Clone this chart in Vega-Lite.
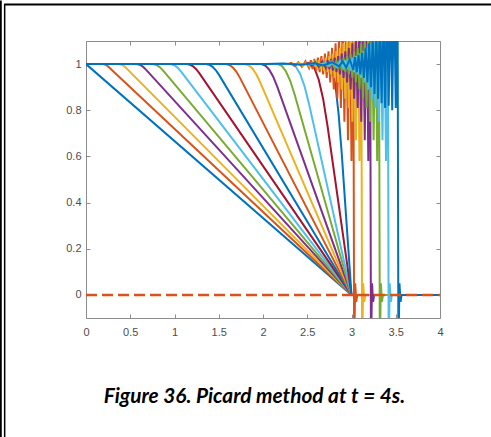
{
 "$schema": "https://vega.github.io/schema/vega-lite/v6.json",
 "width": 354, "height": 277,
 "autosize": "none",
 "padding": {"left": 86, "top": 41, "right": 51, "bottom": 119},
 "background": "white",
 "config": {"view": {"stroke": null}, "axis": {"grid": false, "labelFont": "Liberation Sans", "labelFontSize": 11, "labelColor": "#4d4d4d"}},
 "datasets": {
  "smooth": [
   {"i":1,"x":0,"y":1},{"i":1,"x":3,"y":0},
   {"i":2,"x":0,"y":1},{"i":2,"x":0.19,"y":1},{"i":2,"x":0.205,"y":0.99933},{"i":2,"x":0.22,"y":0.9973},{"i":2,"x":0.235,"y":0.99393},{"i":2,"x":0.25,"y":0.98921},{"i":2,"x":3,"y":0},
   {"i":3,"x":0,"y":1},{"i":3,"x":0.37,"y":1},{"i":3,"x":0.39,"y":0.99903},{"i":3,"x":0.41,"y":0.99614},{"i":3,"x":0.43,"y":0.99131},{"i":3,"x":0.45,"y":0.98456},{"i":3,"x":3,"y":0},
   {"i":4,"x":0,"y":1},{"i":4,"x":0.57,"y":1},{"i":4,"x":0.595,"y":0.99869},{"i":4,"x":0.62,"y":0.99475},{"i":4,"x":0.645,"y":0.98818},{"i":4,"x":0.67,"y":0.97899},{"i":4,"x":3,"y":0},
   {"i":5,"x":0,"y":1},{"i":5,"x":0.75,"y":1},{"i":5,"x":0.78,"y":0.99829},{"i":5,"x":0.81,"y":0.99315},{"i":5,"x":0.84,"y":0.98459},{"i":5,"x":0.87,"y":0.9726},{"i":5,"x":3,"y":0},
   {"i":6,"x":0,"y":1},{"i":6,"x":0.945,"y":1},{"i":6,"x":0.9775,"y":0.99796},{"i":6,"x":1.01,"y":0.99183},{"i":6,"x":1.0425,"y":0.98163},{"i":6,"x":1.075,"y":0.96734},{"i":6,"x":3,"y":0},
   {"i":7,"x":0,"y":1},{"i":7,"x":1.14,"y":1},{"i":7,"x":1.175,"y":0.99756},{"i":7,"x":1.21,"y":0.99022},{"i":7,"x":1.245,"y":0.978},{"i":7,"x":1.28,"y":0.96089},{"i":7,"x":3,"y":0},
   {"i":8,"x":0,"y":1},{"i":8,"x":1.355,"y":1},{"i":8,"x":1.3925,"y":0.99701},{"i":8,"x":1.43,"y":0.98806},{"i":8,"x":1.4675,"y":0.97313},{"i":8,"x":1.505,"y":0.95223},{"i":8,"x":3,"y":0},
   {"i":9,"x":0,"y":1},{"i":9,"x":1.58,"y":1},{"i":9,"x":1.62,"y":0.99627},{"i":9,"x":1.66,"y":0.98507},{"i":9,"x":1.70,"y":0.96642},{"i":9,"x":1.74,"y":0.9403},{"i":9,"x":3,"y":0},
   {"i":10,"x":0,"y":1},{"i":10,"x":1.795,"y":1},{"i":10,"x":1.8375,"y":0.99526},{"i":10,"x":1.88,"y":0.98103},{"i":10,"x":1.9225,"y":0.95731},{"i":10,"x":1.965,"y":0.92411},{"i":10,"x":3,"y":0},
   {"i":11,"x":0,"y":1},{"i":11,"x":1.98,"y":1},{"i":11,"x":2.025,"y":0.99395},{"i":11,"x":2.07,"y":0.97581},{"i":11,"x":2.115,"y":0.94556},{"i":11,"x":2.16,"y":0.90323},{"i":11,"x":3,"y":0},
   {"i":12,"x":0,"y":1},{"i":12,"x":2.165,"y":1},{"i":12,"x":2.2125,"y":0.99198},{"i":12,"x":2.26,"y":0.96791},{"i":12,"x":2.3075,"y":0.92779},{"i":12,"x":2.355,"y":0.87162},{"i":12,"x":3,"y":0},
   {"i":13,"x":0,"y":1},{"i":13,"x":2.32,"y":1},{"i":13,"x":2.37,"y":0.98922},{"i":13,"x":2.42,"y":0.9569},{"i":13,"x":2.47,"y":0.90302},{"i":13,"x":2.52,"y":0.82759},{"i":13,"x":3,"y":0},
   {"i":14,"x":0,"y":1},{"i":14,"x":2.53,"y":1},{"i":14,"x":2.58,"y":0.98311},{"i":14,"x":2.63,"y":0.93243},{"i":14,"x":2.68,"y":0.84797},{"i":14,"x":2.73,"y":0.72973},{"i":14,"x":3,"y":0},
   {"i":15,"x":0,"y":1},{"i":15,"x":2.75,"y":1},{"i":15,"x":2.785,"y":0.97569},{"i":15,"x":2.82,"y":0.90278},{"i":15,"x":2.855,"y":0.78125},{"i":15,"x":2.89,"y":0.61111},{"i":15,"x":3,"y":0}
  ],
  "osc": [
   {"i":16,"x":0,"y":1},{"i":16,"x":2.28,"y":1},{"i":16,"x":2.32,"y":1.005},{"i":16,"x":2.36,"y":0.992},{"i":16,"x":2.40,"y":1.008},{"i":16,"x":2.44,"y":0.988},{"i":16,"x":2.48,"y":1.012},{"i":16,"x":2.52,"y":0.983},{"i":16,"x":2.54,"y":1.017},{"i":16,"x":2.56,"y":0.978},{"i":16,"x":2.58,"y":1.022},{"i":16,"x":2.60,"y":0.972},{"i":16,"x":2.62,"y":1.028},{"i":16,"x":2.64,"y":0.965},{"i":16,"x":2.66,"y":1.035},{"i":16,"x":2.68,"y":0.955},{"i":16,"x":2.70,"y":1.045},{"i":16,"x":2.72,"y":0.94},{"i":16,"x":2.74,"y":1.055},{"i":16,"x":2.76,"y":0.92},{"i":16,"x":2.78,"y":1.07},{"i":16,"x":2.80,"y":0.89},{"i":16,"x":2.82,"y":1.09},{"i":16,"x":2.84,"y":0.85},{"i":16,"x":2.86,"y":1.12},{"i":16,"x":2.88,"y":0.81},{"i":16,"x":2.90,"y":1.16},{"i":16,"x":2.92,"y":0.75},{"i":16,"x":2.94,"y":1.22},{"i":16,"x":2.96,"y":0.67},{"i":16,"x":2.98,"y":1.3},{"i":16,"x":3.00,"y":0.58},{"i":16,"x":3.02,"y":1.35},{"i":16,"x":3.03,"y":-0.25},{"i":16,"x":3.042,"y":0.05},{"i":16,"x":3.054,"y":-0.03},{"i":16,"x":3.066,"y":0},{"i":16,"x":4,"y":0},
   {"i":17,"x":0,"y":1},{"i":17,"x":2.37,"y":1},{"i":17,"x":2.41,"y":1.005},{"i":17,"x":2.45,"y":0.992},{"i":17,"x":2.49,"y":1.008},{"i":17,"x":2.53,"y":0.988},{"i":17,"x":2.57,"y":1.012},{"i":17,"x":2.61,"y":0.983},{"i":17,"x":2.63,"y":1.017},{"i":17,"x":2.65,"y":0.978},{"i":17,"x":2.67,"y":1.022},{"i":17,"x":2.69,"y":0.972},{"i":17,"x":2.71,"y":1.028},{"i":17,"x":2.73,"y":0.965},{"i":17,"x":2.75,"y":1.035},{"i":17,"x":2.77,"y":0.955},{"i":17,"x":2.79,"y":1.045},{"i":17,"x":2.81,"y":0.94},{"i":17,"x":2.83,"y":1.055},{"i":17,"x":2.85,"y":0.92},{"i":17,"x":2.87,"y":1.07},{"i":17,"x":2.89,"y":0.89},{"i":17,"x":2.91,"y":1.09},{"i":17,"x":2.93,"y":0.85},{"i":17,"x":2.95,"y":1.12},{"i":17,"x":2.97,"y":0.81},{"i":17,"x":2.99,"y":1.16},{"i":17,"x":3.01,"y":0.75},{"i":17,"x":3.03,"y":1.22},{"i":17,"x":3.05,"y":0.67},{"i":17,"x":3.07,"y":1.3},{"i":17,"x":3.09,"y":0.58},{"i":17,"x":3.11,"y":1.35},{"i":17,"x":3.12,"y":-0.25},{"i":17,"x":3.132,"y":0.05},{"i":17,"x":3.144,"y":-0.03},{"i":17,"x":3.156,"y":0},{"i":17,"x":4,"y":0},
   {"i":18,"x":0,"y":1},{"i":18,"x":2.47,"y":1},{"i":18,"x":2.51,"y":1.005},{"i":18,"x":2.55,"y":0.992},{"i":18,"x":2.59,"y":1.008},{"i":18,"x":2.63,"y":0.988},{"i":18,"x":2.67,"y":1.012},{"i":18,"x":2.71,"y":0.983},{"i":18,"x":2.73,"y":1.017},{"i":18,"x":2.75,"y":0.978},{"i":18,"x":2.77,"y":1.022},{"i":18,"x":2.79,"y":0.972},{"i":18,"x":2.81,"y":1.028},{"i":18,"x":2.83,"y":0.965},{"i":18,"x":2.85,"y":1.035},{"i":18,"x":2.87,"y":0.955},{"i":18,"x":2.89,"y":1.045},{"i":18,"x":2.91,"y":0.94},{"i":18,"x":2.93,"y":1.055},{"i":18,"x":2.95,"y":0.92},{"i":18,"x":2.97,"y":1.07},{"i":18,"x":2.99,"y":0.89},{"i":18,"x":3.01,"y":1.09},{"i":18,"x":3.03,"y":0.85},{"i":18,"x":3.05,"y":1.12},{"i":18,"x":3.07,"y":0.81},{"i":18,"x":3.09,"y":1.16},{"i":18,"x":3.11,"y":0.75},{"i":18,"x":3.13,"y":1.22},{"i":18,"x":3.15,"y":0.67},{"i":18,"x":3.17,"y":1.3},{"i":18,"x":3.19,"y":0.58},{"i":18,"x":3.21,"y":1.35},{"i":18,"x":3.22,"y":-0.25},{"i":18,"x":3.232,"y":0.05},{"i":18,"x":3.244,"y":-0.03},{"i":18,"x":3.256,"y":0},{"i":18,"x":4,"y":0},
   {"i":19,"x":0,"y":1},{"i":19,"x":2.57,"y":1},{"i":19,"x":2.61,"y":1.005},{"i":19,"x":2.65,"y":0.992},{"i":19,"x":2.69,"y":1.008},{"i":19,"x":2.73,"y":0.988},{"i":19,"x":2.77,"y":1.012},{"i":19,"x":2.81,"y":0.983},{"i":19,"x":2.83,"y":1.017},{"i":19,"x":2.85,"y":0.978},{"i":19,"x":2.87,"y":1.022},{"i":19,"x":2.89,"y":0.972},{"i":19,"x":2.91,"y":1.028},{"i":19,"x":2.93,"y":0.965},{"i":19,"x":2.95,"y":1.035},{"i":19,"x":2.97,"y":0.955},{"i":19,"x":2.99,"y":1.045},{"i":19,"x":3.01,"y":0.94},{"i":19,"x":3.03,"y":1.055},{"i":19,"x":3.05,"y":0.92},{"i":19,"x":3.07,"y":1.07},{"i":19,"x":3.09,"y":0.89},{"i":19,"x":3.11,"y":1.09},{"i":19,"x":3.13,"y":0.85},{"i":19,"x":3.15,"y":1.12},{"i":19,"x":3.17,"y":0.81},{"i":19,"x":3.19,"y":1.16},{"i":19,"x":3.21,"y":0.75},{"i":19,"x":3.23,"y":1.22},{"i":19,"x":3.25,"y":0.67},{"i":19,"x":3.27,"y":1.3},{"i":19,"x":3.29,"y":0.58},{"i":19,"x":3.31,"y":1.35},{"i":19,"x":3.32,"y":-0.25},{"i":19,"x":3.332,"y":0.05},{"i":19,"x":3.344,"y":-0.03},{"i":19,"x":3.356,"y":0},{"i":19,"x":4,"y":0},
   {"i":20,"x":0,"y":1},{"i":20,"x":2.67,"y":1},{"i":20,"x":2.71,"y":1.005},{"i":20,"x":2.75,"y":0.992},{"i":20,"x":2.79,"y":1.008},{"i":20,"x":2.83,"y":0.988},{"i":20,"x":2.87,"y":1.012},{"i":20,"x":2.91,"y":0.983},{"i":20,"x":2.93,"y":1.017},{"i":20,"x":2.95,"y":0.978},{"i":20,"x":2.97,"y":1.022},{"i":20,"x":2.99,"y":0.972},{"i":20,"x":3.01,"y":1.028},{"i":20,"x":3.03,"y":0.965},{"i":20,"x":3.05,"y":1.035},{"i":20,"x":3.07,"y":0.955},{"i":20,"x":3.09,"y":1.045},{"i":20,"x":3.11,"y":0.94},{"i":20,"x":3.13,"y":1.055},{"i":20,"x":3.15,"y":0.92},{"i":20,"x":3.17,"y":1.07},{"i":20,"x":3.19,"y":0.89},{"i":20,"x":3.21,"y":1.09},{"i":20,"x":3.23,"y":0.85},{"i":20,"x":3.25,"y":1.12},{"i":20,"x":3.27,"y":0.81},{"i":20,"x":3.29,"y":1.16},{"i":20,"x":3.31,"y":0.75},{"i":20,"x":3.33,"y":1.22},{"i":20,"x":3.35,"y":0.67},{"i":20,"x":3.37,"y":1.3},{"i":20,"x":3.39,"y":0.58},{"i":20,"x":3.41,"y":1.35},{"i":20,"x":3.42,"y":-0.25},{"i":20,"x":3.432,"y":0.05},{"i":20,"x":3.444,"y":-0.03},{"i":20,"x":3.456,"y":0},{"i":20,"x":4,"y":0},
   {"i":22,"x":0,"y":1},{"i":22,"x":2.03,"y":1},{"i":22,"x":2.23,"y":1.003},{"i":22,"x":2.43,"y":0.997},{"i":22,"x":2.58,"y":1.004},{"i":22,"x":2.68,"y":0.994},{"i":22,"x":2.78,"y":1.008},{"i":22,"x":2.86,"y":0.99},{"i":22,"x":2.90,"y":1.012},{"i":22,"x":2.94,"y":0.985},{"i":22,"x":2.98,"y":1.02},{"i":22,"x":3.02,"y":0.975},{"i":22,"x":3.04,"y":1.03},{"i":22,"x":3.06,"y":0.965},{"i":22,"x":3.08,"y":1.04},{"i":22,"x":3.10,"y":0.955},{"i":22,"x":3.12,"y":1.05},{"i":22,"x":3.14,"y":0.94},{"i":22,"x":3.16,"y":1.07},{"i":22,"x":3.18,"y":0.92},{"i":22,"x":3.20,"y":1.09},{"i":22,"x":3.22,"y":0.9},{"i":22,"x":3.24,"y":1.12},{"i":22,"x":3.26,"y":0.87},{"i":22,"x":3.28,"y":1.16},{"i":22,"x":3.30,"y":0.85},{"i":22,"x":3.32,"y":1.2},{"i":22,"x":3.34,"y":0.83},{"i":22,"x":3.36,"y":1.25},{"i":22,"x":3.38,"y":0.81},{"i":22,"x":3.40,"y":1.3},{"i":22,"x":3.42,"y":0.82},{"i":22,"x":3.44,"y":1.3},{"i":22,"x":3.46,"y":0.8},{"i":22,"x":3.48,"y":1.35},{"i":22,"x":3.50,"y":0.81},{"i":22,"x":3.52,"y":1.4},{"i":22,"x":3.53,"y":-0.25},{"i":22,"x":3.542,"y":0.05},{"i":22,"x":3.554,"y":-0.03},{"i":22,"x":3.566,"y":0},{"i":22,"x":4,"y":0}
  ],
  "zero": [{"x":0,"y":0},{"x":4,"y":0}]
 },
 "layer": [
  {"data": {"values": [{}]}, "mark": {"type": "rule", "clip": false, "color": "black", "strokeWidth": 2},
   "encoding": {"x": {"datum": -0.963, "type": "quantitative", "scale": {"domain": [0, 4], "nice": false, "zero": false}, "axis": null},
    "y": {"datum": 1.275, "type": "quantitative", "scale": {"domain": [-0.1, 1.1], "nice": false, "zero": false}, "axis": null}, "y2": {"datum": -0.7}}},
  {"data": {"values": [{}]}, "mark": {"type": "rule", "clip": false, "color": "black", "strokeWidth": 1.5},
   "encoding": {"x": {"datum": -0.919, "type": "quantitative", "axis": null},
    "y": {"datum": 1.258, "type": "quantitative", "axis": null}, "y2": {"datum": -0.7}}},
  {"data": {"values": [{}]}, "mark": {"type": "rule", "clip": false, "color": "black", "strokeWidth": 2},
   "encoding": {"x": {"datum": -0.925, "type": "quantitative", "axis": null}, "x2": {"datum": 4.7},
    "y": {"datum": 1.258, "type": "quantitative", "axis": null}}},
  {"data": {"name": "smooth"}, "mark": {"type": "line", "interpolate": "linear", "clip": true, "strokeWidth": 2},
   "encoding": {
    "x": {"field": "x", "type": "quantitative", "scale": {"domain": [0, 4], "nice": false, "zero": false},
     "axis": {"orient": "bottom", "values": [0, 0.5, 1, 1.5, 2, 2.5, 3, 3.5, 4], "format": "~g", "tickSize": -4, "labelPadding": 12, "labelFlush": false, "domainColor": "#8c8c8c", "tickColor": "#8c8c8c", "labelColor": "#4d4d4d", "labelFont": "Liberation Sans", "labelFontSize": 11,
      "title": "Figure 36. Picard method at t = 4s.", "titleFont": "Lato", "titleFontSize": 20.8, "titleFontStyle": "italic", "titleFontWeight": "bold", "titleColor": "black", "titlePadding": 49, "titleX": 168, "titleAnchor": "middle", "titleAlign": "center"}},
    "y": {"field": "y", "type": "quantitative", "scale": {"domain": [-0.1, 1.1], "nice": false, "zero": false},
     "axis": {"orient": "left", "values": [0, 0.2, 0.4, 0.6, 0.8, 1], "format": "~g", "title": null, "tickSize": -4, "labelPadding": 9, "labelFlush": false, "domainColor": "#8c8c8c", "tickColor": "#8c8c8c", "labelColor": "#4d4d4d", "labelFont": "Liberation Sans", "labelFontSize": 11}},
    "color": {"field": "i", "type": "nominal", "legend": null,
     "scale": {"domain": [1,2,3,4,5,6,7,8,9,10,11,12,13,14,15,16,17,18,19,20,21,22],
      "range": ["#0072BD","#D95319","#EDB120","#7E2F8E","#77AC30","#4DBEEE","#A2142F","#0072BD","#D95319","#EDB120","#7E2F8E","#77AC30","#4DBEEE","#A2142F","#0072BD","#D95319","#EDB120","#7E2F8E","#77AC30","#4DBEEE","#A2142F","#0072BD"]}}
   }},
  {"data": {"name": "osc"}, "mark": {"type": "line", "interpolate": "linear", "clip": true, "strokeWidth": 2},
   "encoding": {
    "x": {"field": "x", "type": "quantitative",
     "axis": {"orient": "top", "values": [0, 0.5, 1, 1.5, 2, 2.5, 3, 3.5, 4], "labels": false, "title": null, "tickSize": -4, "domainColor": "#8c8c8c", "tickColor": "#8c8c8c"}},
    "y": {"field": "y", "type": "quantitative",
     "axis": {"orient": "right", "values": [0, 0.2, 0.4, 0.6, 0.8, 1], "labels": false, "title": null, "tickSize": -4, "domainColor": "#8c8c8c", "tickColor": "#8c8c8c"}},
    "color": {"field": "i", "type": "nominal", "legend": null}
   }},
  {"data": {"name": "zero"}, "mark": {"type": "line", "clip": true, "strokeWidth": 2.5, "color": "#D95319", "strokeDash": [11, 5]},
   "encoding": {"x": {"field": "x", "type": "quantitative", "axis": null}, "y": {"field": "y", "type": "quantitative", "axis": null}}}
 ],
 "resolve": {"axis": {"x": "independent", "y": "independent"}}
}
